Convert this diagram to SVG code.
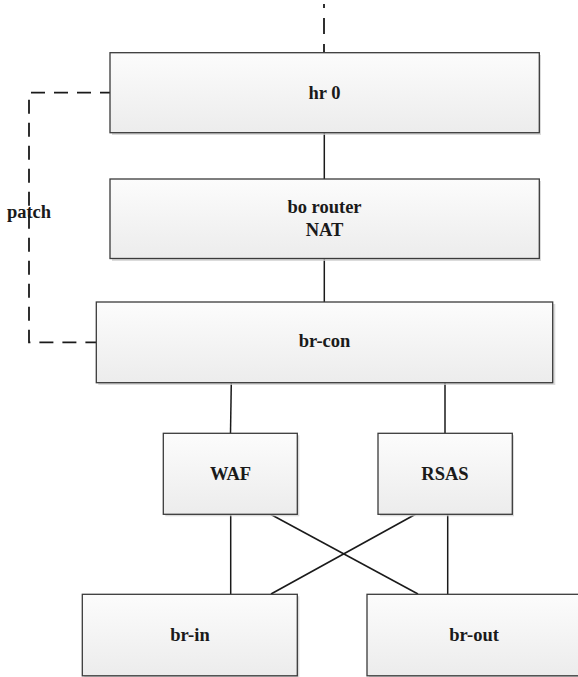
<svg xmlns="http://www.w3.org/2000/svg" width="578" height="677" viewBox="0 0 578 677">
  <defs>
    <linearGradient id="boxFill" x1="0" y1="0" x2="0" y2="1">
      <stop offset="0" stop-color="#fcfcfc"/>
      <stop offset="1" stop-color="#ececec"/>
    </linearGradient>
    <style>
      .shadow { fill: #cfcfcf; opacity: 0.75; }
      .box { fill: url(#boxFill); stroke: #3a3a3a; stroke-width: 1.3; }
      .label { font-family: "Liberation Serif", "Times New Roman", serif; font-weight: bold; font-size: 18.5px; fill: #1a1a1a; text-anchor: middle; }
      .link { stroke: #1a1a1a; stroke-width: 1.5; fill: none; }
      .dash { stroke: #1a1a1a; stroke-width: 1.8; fill: none; stroke-dasharray: 14 9; }
    </style>
  </defs>
  <rect width="578" height="677" fill="#ffffff"/>

  <!-- connectors -->
  <g id="connectors">
    <path class="dash" d="M324,4 L324,52.5" style="stroke-dasharray:16 10;stroke-dashoffset:12"/>
    <path class="dash" d="M110,92.7 L29,92.7 L29,342.3 L96,342.3" style="stroke-dasharray:14 9;stroke-dashoffset:4"/>
    <line class="link" x1="324.3" y1="133" x2="324.3" y2="179"/>
    <line class="link" x1="324.3" y1="258.5" x2="324.3" y2="302"/>
    <line class="link" x1="231.3" y1="383" x2="230.5" y2="433"/>
    <line class="link" x1="445" y1="383" x2="445" y2="433"/>
    <line class="link" x1="230.7" y1="514" x2="230.7" y2="594"/>
    <line class="link" x1="447.7" y1="514" x2="447.7" y2="594"/>
    <line class="link" x1="270" y1="514" x2="418" y2="594"/>
    <line class="link" x1="416" y1="514" x2="271" y2="594"/>
  </g>

  <g id="hr0">
    <rect class="shadow" x="112" y="55" width="429" height="80"/>
    <rect class="box" x="110" y="52.7" width="429.3" height="80"/>
    <text class="label" x="324.5" y="99">hr 0</text>
  </g>

  <g id="bo-router">
    <rect class="shadow" x="112" y="181" width="429" height="80"/>
    <rect class="box" x="110" y="179" width="429.3" height="79.5"/>
    <text class="label" x="324.5" y="213.3">bo router</text>
    <text class="label" x="324.5" y="235.7">NAT</text>
  </g>

  <g id="br-con">
    <rect class="shadow" x="98.3" y="304" width="457" height="81"/>
    <rect class="box" x="96.3" y="302" width="456.4" height="80.7"/>
    <text class="label" x="324.5" y="347.3">br-con</text>
  </g>

  <g id="waf">
    <rect class="shadow" x="165.3" y="435.3" width="134" height="81"/>
    <rect class="box" x="163.3" y="433.3" width="134" height="81"/>
    <text class="label" x="230.5" y="480">WAF</text>
  </g>

  <g id="rsas">
    <rect class="shadow" x="380" y="435.3" width="134" height="81"/>
    <rect class="box" x="378" y="433.3" width="134.3" height="81"/>
    <text class="label" x="445" y="480">RSAS</text>
  </g>

  <g id="br-in">
    <rect class="shadow" x="84.3" y="596.3" width="215" height="82"/>
    <rect class="box" x="82.3" y="594.3" width="215" height="81.5"/>
    <text class="label" x="190" y="641">br-in</text>
  </g>

  <g id="br-out">
    <rect class="shadow" x="369" y="596.3" width="215" height="82"/>
    <rect class="box" x="367" y="594.3" width="214" height="81.5"/>
    <text class="label" x="474" y="641">br-out</text>
  </g>

  <g id="patch-label">
    <text class="label" x="29" y="218">patch</text>
  </g>
</svg>
